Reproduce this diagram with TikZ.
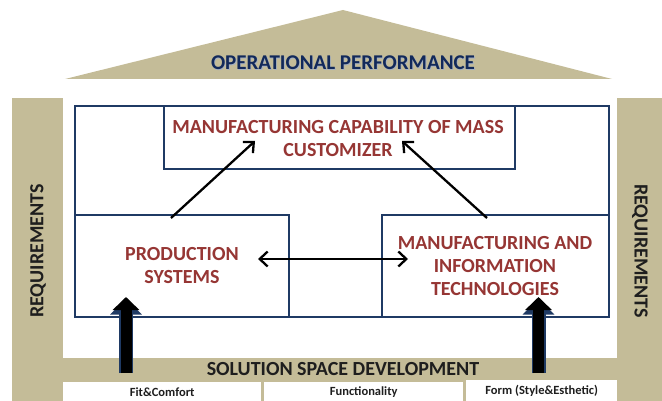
\documentclass[tikz,border=0pt]{standalone}
\usepackage{fontspec}
\setmainfont{Carlito}
\usetikzlibrary{arrows.meta}
\definecolor{tan}{HTML}{C4BC98}
\definecolor{navy}{HTML}{1F3A64}
\definecolor{boxred}{HTML}{963634}
\definecolor{titlenavy}{HTML}{12295A}
\definecolor{darktxt}{HTML}{1E1E1E}
\tikzset{
  box/.style={draw=navy, line width=2pt, fill=white, anchor=north west, inner sep=0pt},
  boxtext/.style={text=boxred, font=\fontsize{20}{23}\selectfont\bfseries, align=center},
  title/.style={text=titlenavy, font=\fontsize{21}{24}\selectfont\bfseries},
  sidetext/.style={text=darktxt, font=\fontsize{20}{22}\selectfont\bfseries},
  bandtext/.style={text=darktxt, font=\fontsize{20}{22}\selectfont\bfseries},
  smallbox/.style={fill=white, anchor=north west, inner sep=0pt, text=darktxt, font=\fontsize{12.5}{14}\selectfont\bfseries},
  thin arrow/.style={line width=2.3pt, -{Straight Barb[length=8pt,width=15pt,line width=2.3pt]}},
  both arrow/.style={line width=2.3pt, {Straight Barb[length=8pt,width=15pt,line width=2.3pt]}-{Straight Barb[length=8pt,width=15pt,line width=2.3pt]}},
  big arrow under/.style={draw=navy, line width=14pt, -{Triangle[length=16pt,width=31pt]}},
  big arrow/.style={draw=black, line width=11pt, -{Triangle[length=13pt,width=26pt]}}
}
\begin{document}
\begin{tikzpicture}[x=1pt,y=-1pt]
\useasboundingbox (0,0) rectangle (662,401);
% roof
\fill[tan] (65,79) -- (343,10) -- (612,79) -- cycle;
\node[title, text=navy!40] at (343.8,63.8) {OPERATIONAL PERFORMANCE};
\node[title] (op) at (343,63) {OPERATIONAL PERFORMANCE};
% pillars and base
\fill[tan] (12,98) rectangle (662,401);
\fill[white] (63,98) rectangle (617,358);
% outer frame
\node[box, minimum width=534pt, minimum height=211pt] (frame) at (74,105) {};
% inner boxes
\node[box, minimum width=351pt, minimum height=63pt] (top) at (163,105) {};
\node[boxtext] (toptext) at (338,139) {MANUFACTURING CAPABILITY OF MASS\\CUSTOMIZER};
\node[box, minimum width=214pt, minimum height=102pt] (left) at (74,214) {};
\node[boxtext] (lefttext) at (182,266) {PRODUCTION\\SYSTEMS};
\node[box, minimum width=227pt, minimum height=102pt] (right) at (381,214) {};
\node[boxtext] (righttext) at (495,266) {MANUFACTURING AND\\INFORMATION\\TECHNOLOGIES};
% thin arrows
\coordinate (a1s) at (171,218);
\coordinate (a1e) at (255,141);
\coordinate (a2s) at (487,218);
\coordinate (a2e) at (402,141);
\coordinate (a3s) at (258,259);
\coordinate (a3e) at (408,259);
\draw[thin arrow] (a1s) -- (a1e);
\draw[thin arrow] (a2s) -- (a2e);
\draw[both arrow] (a3s) -- (a3e);
% band text
\node[bandtext] (band) at (343,369) {SOLUTION SPACE DEVELOPMENT};
% big arrows
\coordinate (b1s) at (126,373);
\coordinate (b1e) at (126,297);
\coordinate (b2s) at (538.5,373);
\coordinate (b2e) at (538.5,297);
\draw[big arrow under] (b1s) -- ([yshift=-1.5pt]b1e);
\draw[big arrow] (b1s) -- (b1e);
\draw[big arrow under] (b2s) -- ([yshift=-1.5pt]b2e);
\draw[big arrow] (b2s) -- (b2e);
% side labels
\node[sidetext, rotate=90] (reqL) at (38,251) {REQUIREMENTS};
\node[sidetext, rotate=-90] (reqR) at (640,251) {REQUIREMENTS};
% bottom boxes
\node[smallbox, minimum width=198pt, minimum height=19pt] (fit) at (63,382) {Fit\&Comfort};
\node[smallbox, minimum width=199pt, minimum height=19pt] (func) at (264,382) {Functionality};
\node[smallbox, minimum width=151pt, minimum height=21pt] (form) at (466,380) {Form (Style\&Esthetic)};
\end{tikzpicture}
\end{document}
